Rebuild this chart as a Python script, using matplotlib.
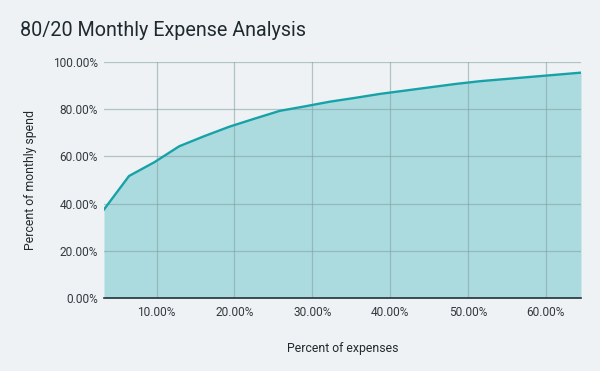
import matplotlib.pyplot as plt
from matplotlib.ticker import PercentFormatter

# share of expenses (x) vs cumulative share of monthly spend (y), in percent
expense_pct = [3.23, 6.45, 9.68, 12.9, 16.13, 19.35, 22.58, 25.81, 29.03, 32.26,
               35.48, 38.71, 41.94, 45.16, 48.39, 51.61, 54.84, 58.06, 61.29, 64.52]
spend_pct = [37.5, 51.7, 57.5, 64.3, 68.6, 72.6, 76.0, 79.3, 81.2, 83.2,
             84.8, 86.5, 87.9, 89.3, 90.7, 91.9, 92.8, 93.7, 94.6, 95.5]
x_ticks = [10, 20, 30, 40, 50, 60]
y_ticks = [0, 20, 40, 60, 80, 100]

bg = "#eef2f5"
plt.rcParams["font.family"] = ["Roboto", "DejaVu Sans"]

fig = plt.figure(figsize=(6, 3.71), dpi=100, facecolor=bg)
ax = fig.add_axes([0.1733, 0.1968, 0.795, 0.636], facecolor=bg)

ax.fill_between(expense_pct, spend_pct, 0, color="#acdbdf", linewidth=0, zorder=1)
ax.plot(expense_pct, spend_pct, color="#17a2a8", linewidth=1.7, zorder=3,
        solid_joinstyle="round")

ax.set_xlim(expense_pct[0], expense_pct[-1])
ax.set_ylim(0, 100)
ax.set_xticks(x_ticks)
ax.set_yticks(y_ticks)
ax.xaxis.set_major_formatter(PercentFormatter(decimals=2))
ax.yaxis.set_major_formatter(PercentFormatter(decimals=2))

ax.grid(True, color="#7f9f9f", alpha=0.55, linewidth=0.9, zorder=2)
ax.set_axisbelow(False)
for side in ["top", "right", "left"]:
    ax.spines[side].set_visible(False)
ax.spines["bottom"].set_color("#253238")
ax.spines["bottom"].set_linewidth(1.2)
ax.spines["bottom"].set_zorder(4)

ax.tick_params(axis="both", length=0, labelsize=8.6, labelcolor="#333a3f")
ax.tick_params(axis="x", pad=6)
ax.tick_params(axis="y", pad=4.5)

ax.set_xlabel("Percent of expenses", fontsize=8.8, color="#222a2e", labelpad=16)
ax.set_ylabel("Percent of monthly spend", fontsize=8.8, color="#222a2e", labelpad=11)

fig.text(20 / 600, 1 - 31 / 371, "80/20 Monthly Expense Analysis", fontsize=14.2,
         color="#1f2a30", va="center", ha="left")

fig.savefig("out.png", dpi=100, facecolor=bg)
